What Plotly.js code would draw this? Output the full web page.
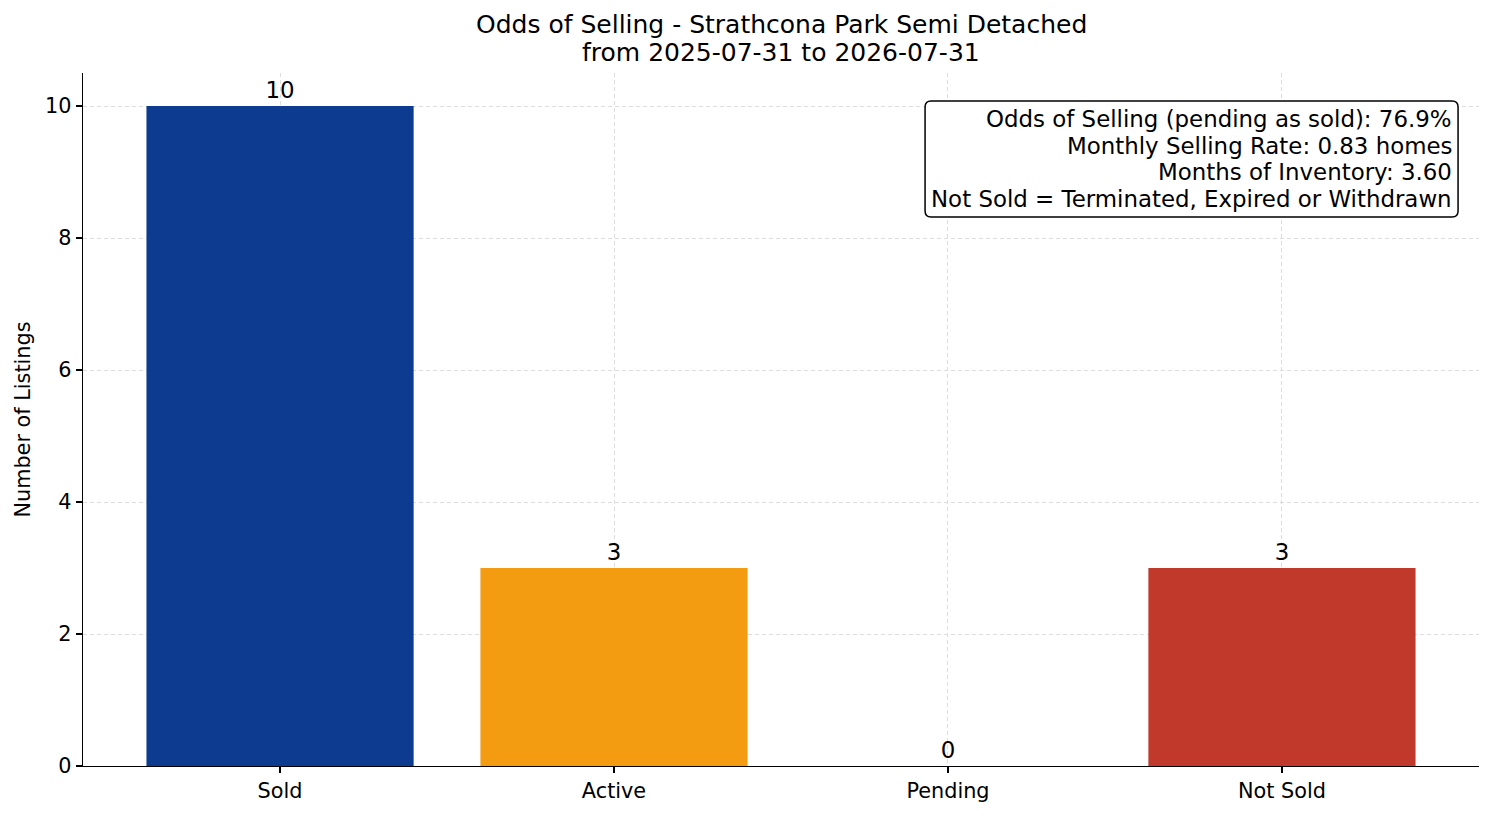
<!DOCTYPE html>
<html>
<head>
<meta charset="utf-8">
<script src="https://cdn.plot.ly/plotly-3.0.1.min.js"></script>
<style>
  body { margin: 0; background: #fff; }
  #chart { width: 1494px; height: 816px; }
</style>
</head>
<body>
<div id="chart"></div>
<script>
var categories = ['Sold', 'Active', 'Pending', 'Not Sold'];
var counts = [10, 3, 0, 3];
var barColors = ['#0c3b8f', '#f39c12', '#8e44ad', '#c0392b'];
var titleLines = [
    'Odds of Selling - Strathcona Park Semi Detached',
    'from 2025-07-31 to 2026-07-31'
];
var statLines = [
    'Odds of Selling (pending as sold): 76.9%',
    'Monthly Selling Rate: 0.83 homes',
    'Months of Inventory: 3.60',
    'Not Sold = Terminated, Expired or Withdrawn'
];

var FONT = 'DejaVu Sans, sans-serif';

var axisCommon = {
    showline: true,
    linecolor: '#000',
    linewidth: 1.3,
    ticks: 'outside',
    ticklen: 6,
    tickwidth: 1.3,
    tickcolor: '#000',
    showgrid: true,
    gridcolor: '#d4d4d4',
    griddash: '4px,3px',
    gridwidth: 0.8,
    zeroline: false,
    layer: 'above traces',
    tickfont: {family: FONT, size: 20.8, color: '#000'}
};

// title lines, laid out one by one to keep matplotlib-like spacing
var annotations = titleLines.map(function (t, i) {
    return {
        xref: 'paper', yref: 'paper',
        x: 0.5, y: 1.0693 - i * 0.0404,
        xanchor: 'center', yanchor: 'middle',
        showarrow: false,
        text: t,
        font: {family: FONT, size: 25, color: '#000'}
    };
});

// stats box text, right aligned
statLines.forEach(function (t, i) {
    annotations.push({
        xref: 'paper', yref: 'paper',
        x: 0.9821, y: 0.9336 - i * 0.0385,
        xanchor: 'right', yanchor: 'middle',
        showarrow: false,
        text: t,
        font: {family: FONT, size: 22.9, color: '#000'}
    });
});

// rounded box around the stats
var bx0 = 0.6032, bx1 = 0.985, by0 = 0.7922, by1 = 0.9596, rx = 0.0043, ry = 0.0087;
var boxPath = 'M ' + (bx0 + rx) + ',' + by1 +
    ' L ' + (bx1 - rx) + ',' + by1 +
    ' Q ' + bx1 + ',' + by1 + ' ' + bx1 + ',' + (by1 - ry) +
    ' L ' + bx1 + ',' + (by0 + ry) +
    ' Q ' + bx1 + ',' + by0 + ' ' + (bx1 - rx) + ',' + by0 +
    ' L ' + (bx0 + rx) + ',' + by0 +
    ' Q ' + bx0 + ',' + by0 + ' ' + bx0 + ',' + (by0 + ry) +
    ' L ' + bx0 + ',' + (by1 - ry) +
    ' Q ' + bx0 + ',' + by1 + ' ' + (bx0 + rx) + ',' + by1 + ' Z';

var layout = {
    width: 1494,
    height: 816,
    paper_bgcolor: '#fff',
    plot_bgcolor: '#fff',
    margin: {l: 83, r: 15, t: 73, b: 50},
    showlegend: false,
    xaxis: Object.assign({}, axisCommon, {
        type: 'category',
        range: [-0.59, 3.59]
    }),
    yaxis: Object.assign({}, axisCommon, {
        range: [0, 10.5],
        dtick: 2,
        title: {text: 'Number of Listings', font: {family: FONT, size: 20.8, color: '#000'}, standoff: 8}
    }),
    bargap: 0.2,
    shapes: [{
        type: 'path',
        xref: 'paper', yref: 'paper',
        path: boxPath,
        fillcolor: '#fff',
        line: {color: '#000', width: 1.5},
        layer: 'above'
    }],
    annotations: annotations
};

Plotly.newPlot('chart', [{
    type: 'bar',
    x: categories,
    y: counts,
    marker: {color: barColors},
    text: counts.map(String),
    textposition: 'outside',
    textfont: {family: FONT, size: 22.9, color: '#000'},
    cliponaxis: false,
    hoverinfo: 'none'
}], layout, {staticPlot: true});
</script>
</body>
</html>
